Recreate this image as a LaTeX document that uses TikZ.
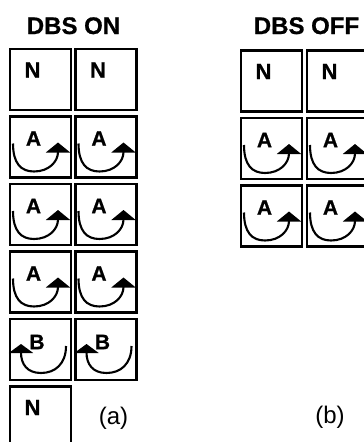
\documentclass[tikz,border=0pt]{standalone}
\usepackage{fontspec}
\setmainfont{Liberation Sans}
\newfontfamily\heavyfont{Liberation Sans Bold}[FakeBold=0.8]
\usetikzlibrary{arrows.meta,calc}
\tikzset{
 cell/.style={draw, line width=2.2pt, minimum width=61pt, minimum height=61pt, inner sep=0pt, outer sep=0pt, anchor=north west},
 lbl/.style={inner sep=0pt, font=\heavyfont\fontsize{22}{24}\selectfont},
 sym/.style={inner sep=0pt, font=\heavyfont\fontsize{21}{23}\selectfont},
 turnA/.style={line width=2.1pt, -{Triangle[width=24pt,length=10pt]}},
 turnB/.style={line width=2.1pt, -{Triangle[width=24pt,length=9pt]}},
 title/.style={inner sep=0pt, anchor=base, font=\heavyfont\fontsize{24}{28}\selectfont},
 sublbl/.style={inner sep=0pt, font=\fontsize{24}{28}\selectfont}
}
\newcommand\cellN[3]{%
 \node[cell] (#1) at (#2,#3) {};
 \begin{scope}[shift={(#1.north west)}]
  \node[lbl] (#1-t) at (22.5,21) {N};
 \end{scope}}
\newcommand\cellA[3]{%
 \node[cell] (#1) at (#2,#3) {};
 \begin{scope}[shift={(#1.north west)}]
  \node[sym] (#1-t) at (23.5,22) {A};
  \draw[turnA] (3,27) .. controls (3,47) and (11,55) .. (24,55) .. controls (39,55) and (48,45) .. (48,26);
 \end{scope}}
\newcommand\cellB[3]{%
 \node[cell] (#1) at (#2,#3) {};
 \begin{scope}[shift={(#1.north west)}]
  \node[sym] (#1-t) at (27,23) {B};
  \draw[turnB] (56,27) .. controls (56,45) and (45,54) .. (31,54) .. controls (17,54) and (11,45) .. (11,25);
 \end{scope}}
\begin{document}
\begin{tikzpicture}[x=1pt,y=-1pt]
\useasboundingbox (0,0) rectangle (364,442);
\clip (0,0) rectangle (364,442);
% titles
\node[title] (ton) at (73.5,34) {DBS ON};
\node[title] (toff) at (306.5,34) {DBS OFF};
% DBS ON
\cellN{a11}{10}{49}
\cellN{a12}{75.5}{49}
\cellA{a21}{10}{116.5}
\cellA{a22}{75.5}{116.5}
\cellA{a31}{10}{184}
\cellA{a32}{75.5}{184}
\cellA{a41}{10}{251.5}
\cellA{a42}{75.5}{251.5}
\cellB{a51}{10}{319}
\cellB{a52}{75.5}{319}
\cellN{a61}{10}{386.5}
% DBS OFF
\cellN{b11}{241}{50.5}
\cellN{b12}{307}{50.5}
\cellA{b21}{241}{118}
\cellA{b22}{307}{118}
\cellA{b31}{241}{185.5}
\cellA{b32}{307}{185.5}
% captions
\node[sublbl] (capa) at (113.5,418.5) {(a)};
\node[sublbl] (capb) at (330,417.5) {(b)};
\end{tikzpicture}
\end{document}
